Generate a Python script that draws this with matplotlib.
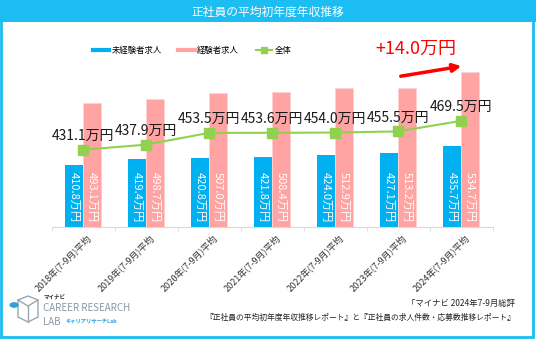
import numpy as np
import matplotlib
matplotlib.use("Agg")
import matplotlib.pyplot as plt
from matplotlib.lines import Line2D
from matplotlib.patches import Rectangle, Circle, Polygon
from matplotlib.transforms import ScaledTranslation

plt.rcParams['font.family'] = ['Noto Sans CJK JP', 'DejaVu Sans']

# 年収データ（万円）
years = ['2018年(7-9月)平均', '2019年(7-9月)平均', '2020年(7-9月)平均', '2021年(7-9月)平均',
         '2022年(7-9月)平均', '2023年(7-9月)平均', '2024年(7-9月)平均']
inexperienced = [410.8, 419.4, 420.8, 421.8, 424.0, 427.1, 435.7]
experienced = [493.1, 498.7, 507.0, 508.4, 512.9, 513.2, 534.7]
overall = [431.1, 437.9, 453.5, 453.6, 454.0, 455.5, 469.5]

c_blue = '#00B0F0'
c_pink = '#FFA3A3'
c_green = '#92D050'
c_frame = '#1CBDF2'

W, H = 536, 340
fig = plt.figure(figsize=(W / 100, H / 100), dpi=100, facecolor='white')


def fx(px):
    return px / W


def fy(py):
    return 1 - py / H


# 枠とタイトルバー
fig.patches.append(Rectangle((fx(1), fy(337)), fx(532), 337 / H, transform=fig.transFigure,
                             fill=False, edgecolor=c_frame, linewidth=2, zorder=-1))
fig.patches.append(Rectangle((0, fy(22)), 1, 22 / H, transform=fig.transFigure,
                             facecolor=c_frame, edgecolor='none', zorder=-1))
fig.text(0.5, fy(12), '正社員の平均初年度年収推移', color='white', fontsize=8.5,
         ha='center', va='center')

ax = fig.add_axes([fx(51.5), fy(227), fx(441), (227 - 55) / H])
ax.set_facecolor('none')

x = np.arange(len(years))
w = 0.286
ax.bar(x - w / 2, inexperienced, w, color=c_blue, zorder=2)
ax.bar(x + w / 2, experienced, w, color=c_pink, edgecolor='#FFD0D0', linewidth=0.5, zorder=2)
ax.plot(x, overall, color=c_green, lw=1.5, marker='s', ms=7, zorder=3)

ax.set_xlim(-0.5, len(years) - 0.5)
ax.set_ylim(328.5, 557)

for i in range(len(years)):
    ax.annotate(f'{inexperienced[i]:.1f}万円', (x[i] - w / 2, 328.5), xytext=(0, 3.5),
                textcoords='offset points', rotation=270, ha='center', va='bottom',
                color='white', fontsize=8, zorder=4)
    ax.annotate(f'{experienced[i]:.1f}万円', (x[i] + w / 2, 328.5), xytext=(0, 3.5),
                textcoords='offset points', rotation=270, ha='center', va='bottom',
                color='white', fontsize=8, zorder=4)
    ax.annotate(f'{overall[i]:.1f}万円', (x[i], overall[i]), xytext=(0, 10),
                textcoords='offset points', ha='center', va='center',
                color='#1A1A1A', fontsize=10, zorder=5)

# 直近の増加幅
diff = overall[-1] - overall[-2]
ax.annotate('', xy=(x[-1] + 0.05, experienced[-1] + 8), xytext=(x[-2], experienced[-2] + 15),
            arrowprops=dict(arrowstyle='-|>', color='#FF0000', lw=2.5, mutation_scale=12))
ax.text((x[-2] + x[-1]) / 2 - 0.22, experienced[-1] + 30, f'+{diff:.1f}万円', color='#FF0000',
        fontsize=13, ha='center', va='center')

for s in ['top', 'right', 'left']:
    ax.spines[s].set_visible(False)
ax.spines['bottom'].set_color('#D9D9D9')
ax.set_yticks([])
ax.set_xticks(x)
ax.set_xticklabels(years, rotation=45, ha='right', rotation_mode='anchor', fontsize=6.5,
                   color='#333333')
ax.tick_params(axis='x', length=0, pad=4)
shift = ScaledTranslation(3 / 100, 0, fig.dpi_scale_trans)
for lbl in ax.get_xticklabels():
    lbl.set_transform(lbl.get_transform() + shift)
ax.set_xticks(np.arange(len(years) + 1) - 0.5, minor=True)
ax.tick_params(axis='x', which='minor', length=3, color='#D9D9D9')

handles = [Line2D([], [], color=c_blue, lw=3),
           Line2D([], [], color=c_pink, lw=3),
           Line2D([], [], color=c_green, lw=1.5, marker='s', ms=5)]
fig.legend(handles, ['未経験者求人', '経験者求人', '全体'], loc='center',
           bbox_to_anchor=(fx(192), fy(50)), ncol=3, frameon=False, fontsize=6,
           handlelength=2.0, handletextpad=0.25, columnspacing=2.0)

# ロゴ
fig.patches.append(Polygon([[fx(18), fy(300)], [fx(28), fy(296)], [fx(38), fy(300)],
                            [fx(38), fy(317)], [fx(28), fy(322)], [fx(18), fy(317)]],
                           closed=True, transform=fig.transFigure, fill=False,
                           edgecolor='#9AA6B2', lw=1))
fig.lines.append(Line2D([fx(18), fx(28), fx(38)], [fy(300), fy(306), fy(300)],
                        transform=fig.transFigure, color='#9AA6B2', lw=1))
fig.lines.append(Line2D([fx(28), fx(28)], [fy(306), fy(322)],
                        transform=fig.transFigure, color='#9AA6B2', lw=1))
fig.patches.append(Circle((fx(14), fy(305)), 4.5 / W, transform=fig.transFigure,
                          facecolor='#2AA0E0', edgecolor='none'))
fig.text(fx(44), fy(297), 'マイナビ', fontsize=4, fontweight='bold', color='#333333', va='center')
fig.text(fx(43), fy(308), 'CAREER RESEARCH', fontsize=7, color='#8C98A4', va='center')
fig.text(fx(43), fy(322), 'LAB', fontsize=7, color='#8C98A4', va='center')
fig.text(fx(66), fy(322), 'キャリアリサーチLab', fontsize=3.8, fontweight='bold', color='#2AA0E0',
         va='center')

# 出典
fig.text(fx(515), fy(303), '「マイナビ 2024年7-9月総評', fontsize=6, ha='right', va='center',
         color='#222222')
fig.text(fx(515), fy(318), '『正社員の平均初年度年収推移レポート』と『正社員の求人件数・応募数推移レポート』',
         fontsize=5.6, ha='right', va='center', color='#222222')

fig.savefig('out.png', dpi=100)
